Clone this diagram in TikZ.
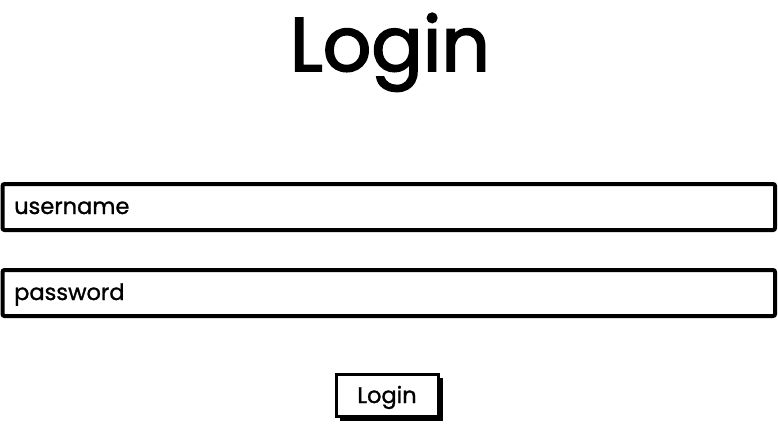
\documentclass[tikz,border=0pt]{standalone}
\usepackage{fontspec}
\setmainfont{Poppins}[FakeBold=1.2]
\newfontfamily\uifont{Poppins}[FakeBold=1.2]
\newfontfamily\titlefont{Poppins}[FakeBold=2.2]
\begin{document}
\begin{tikzpicture}[x=1pt,y=-1pt,
  field/.style={draw=black,line width=4pt,fill=white,rounded corners=2pt},
  fieldtext/.style={anchor=base west,font=\uifont\fontsize{22.5}{26}\selectfont,inner sep=0pt},
  btn/.style={draw=black,line width=3pt,fill=white},
  btnshadow/.style={fill=black}]
\useasboundingbox (0,0) rectangle (778,424);
\node[font=\titlefont\fontsize{76}{80}\selectfont,inner sep=0pt,anchor=base] (title) at (390,71) {Login};
\draw[field] (2.5,184) rectangle (775,230) coordinate (ubr);
\node[fieldtext] (user) at (14,214) {username};
\draw[field] (2.5,270) rectangle (775,316) coordinate (pbr);
\node[fieldtext] (pass) at (14,300) {password};
\fill[btnshadow] (340,378) rectangle (443,421);
\draw[btn] (336.5,374.5) rectangle (438,416) ;
\node[inner sep=0pt,anchor=base,font=\uifont\fontsize{22.5}{26}\selectfont] (login) at (387,403) {Login};
\end{tikzpicture}
\end{document}
